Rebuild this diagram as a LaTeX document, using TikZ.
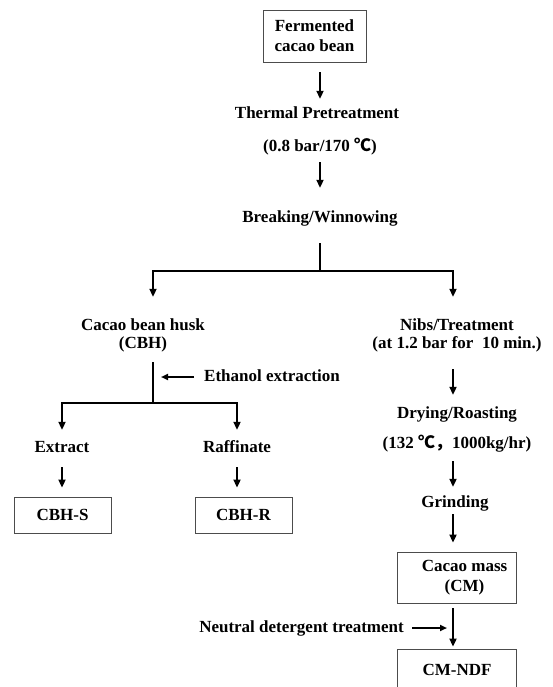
\documentclass[tikz,border=0pt]{standalone}
\usepackage{fontspec}
\setmainfont{Liberation Serif}
\newfontfamily\cjkfont{Noto Sans CJK SC}
\usetikzlibrary{arrows.meta}
\newcommand{\degC}{{\cjkfont ℃}}
\newcommand{\cjkcomma}{{\cjkfont ，}}
\tikzset{
  lbl/.style={font=\fontsize{17}{18}\selectfont\bfseries, inner sep=0pt, text height=12pt, text depth=4pt},
  mlbl/.style={font=\fontsize{17}{18}\selectfont\bfseries, inner sep=0pt, align=center, minimum height=36pt},
  boxn/.style={draw=black!70, line width=0.9pt, font=\fontsize{17}{20}\selectfont\bfseries, align=center, inner sep=0pt},
  conn/.style={line width=2.6pt},
  arr/.style={line width=2.6pt, -{Triangle[length=8pt,width=7pt]}},
  tarr/.style={line width=1.8pt, -{Triangle[length=7pt,width=6pt]}}
}
\begin{document}
\begin{tikzpicture}[x=1pt,y=-1pt]
\useasboundingbox[fill=white] (0,0) rectangle (552,687);
% top column
\node[boxn, minimum width=103pt, minimum height=52pt] (ferm) at (314.5,36) {Fermented\\cacao bean};
\node[lbl] (therm) at (317,115) {Thermal Pretreatment};
\node[lbl] (tp) at (320,148) {(0.8 bar/170 \degC)};
\node[lbl] (brk) at (320,218) {Breaking/Winnowing};
\coordinate (j1) at (320,271);
\coordinate (jl) at (153,271);
\coordinate (jr) at (453,271);
\draw[arr, shorten <=10pt, shorten >=8pt] (ferm.south -| tp) -- (therm.north -| tp);
\draw[arr, shorten <=6pt, shorten >=22pt] (tp.south) -- (brk.north);
\draw[conn, shorten <=17pt] (brk.south) -- (j1);
% branches
\node[mlbl] (cbh) at (143,335.5) {Cacao bean husk\\(CBH)};
\node[mlbl] (nibs) at (457,335.5) {Nibs/Treatment\\(at 1.2 bar for\ \ 10 min.)};
\draw[arr, shorten >=20.5pt] (j1) -| (cbh.north -| jl);
\draw[arr, shorten >=20.5pt] (j1) -| (nibs.north -| jr);
% left column
\coordinate (j2) at (153,403);
\draw[conn, shorten <=8.5pt] (cbh.south -| jl) -- (j2);
\node[lbl, anchor=west] (eth) at (204,377) {Ethanol extraction};
\draw[tarr, shorten <=10pt, shorten >=8pt] (eth.west) -- (eth.west -| j2);
\node[lbl] (extr) at (62,448) {Extract};
\node[lbl] (raff) at (237,448) {Raffinate};
\draw[arr, shorten >=10pt] (j2) -| (extr.north);
\draw[arr, shorten >=10pt] (j2) -| (raff.north);
\node[boxn, minimum width=97pt, minimum height=36pt] (cbhs) at (62.5,515) {CBH-S};
\node[boxn, minimum width=97pt, minimum height=36pt] (cbhr) at (243.5,515) {CBH-R};
\draw[arr, shorten <=11pt, shorten >=9pt] (extr.south) -- (cbhs.north -| extr);
\draw[arr, shorten <=11pt, shorten >=9pt] (raff.south) -- (cbhr.north -| raff);
% right column
\node[lbl] (dry) at (457,414) {Drying/Roasting};
\node[lbl] (dryp) at (457,444) {(132 \degC\cjkcomma1000kg/hr)};
\node[lbl] (grind) at (455,503) {Grinding};
\node[boxn, minimum width=119pt, minimum height=51pt] (cm) at (456.5,577.5) {\hspace*{16pt}Cacao mass\\\hspace*{16pt}(CM)};
\node[boxn, minimum width=119pt, minimum height=50pt] (ndf) at (456.5,674) {};
\node[lbl] (ndft) at (457,671) {CM-NDF};
\draw[arr, shorten <=15.5pt, shorten >=11pt] (nibs.south -| jr) -- (dry.north -| jr);
\draw[arr, shorten <=9pt, shorten >=8pt] (dryp.south -| jr) -- (grind.north -| jr);
\draw[arr, shorten <=3pt, shorten >=9pt] (grind.south -| jr) -- (cm.north -| jr);
\draw[arr, shorten <=5pt, shorten >=2pt] (cm.south -| jr) -- (ndf.north -| jr);
\node[lbl, anchor=east] (neu) at (404,628) {Neutral detergent treatment};
\draw[tarr, shorten <=8pt, shorten >=6pt] (neu.east) -- (neu.east -| jr);
\end{tikzpicture}
\end{document}
